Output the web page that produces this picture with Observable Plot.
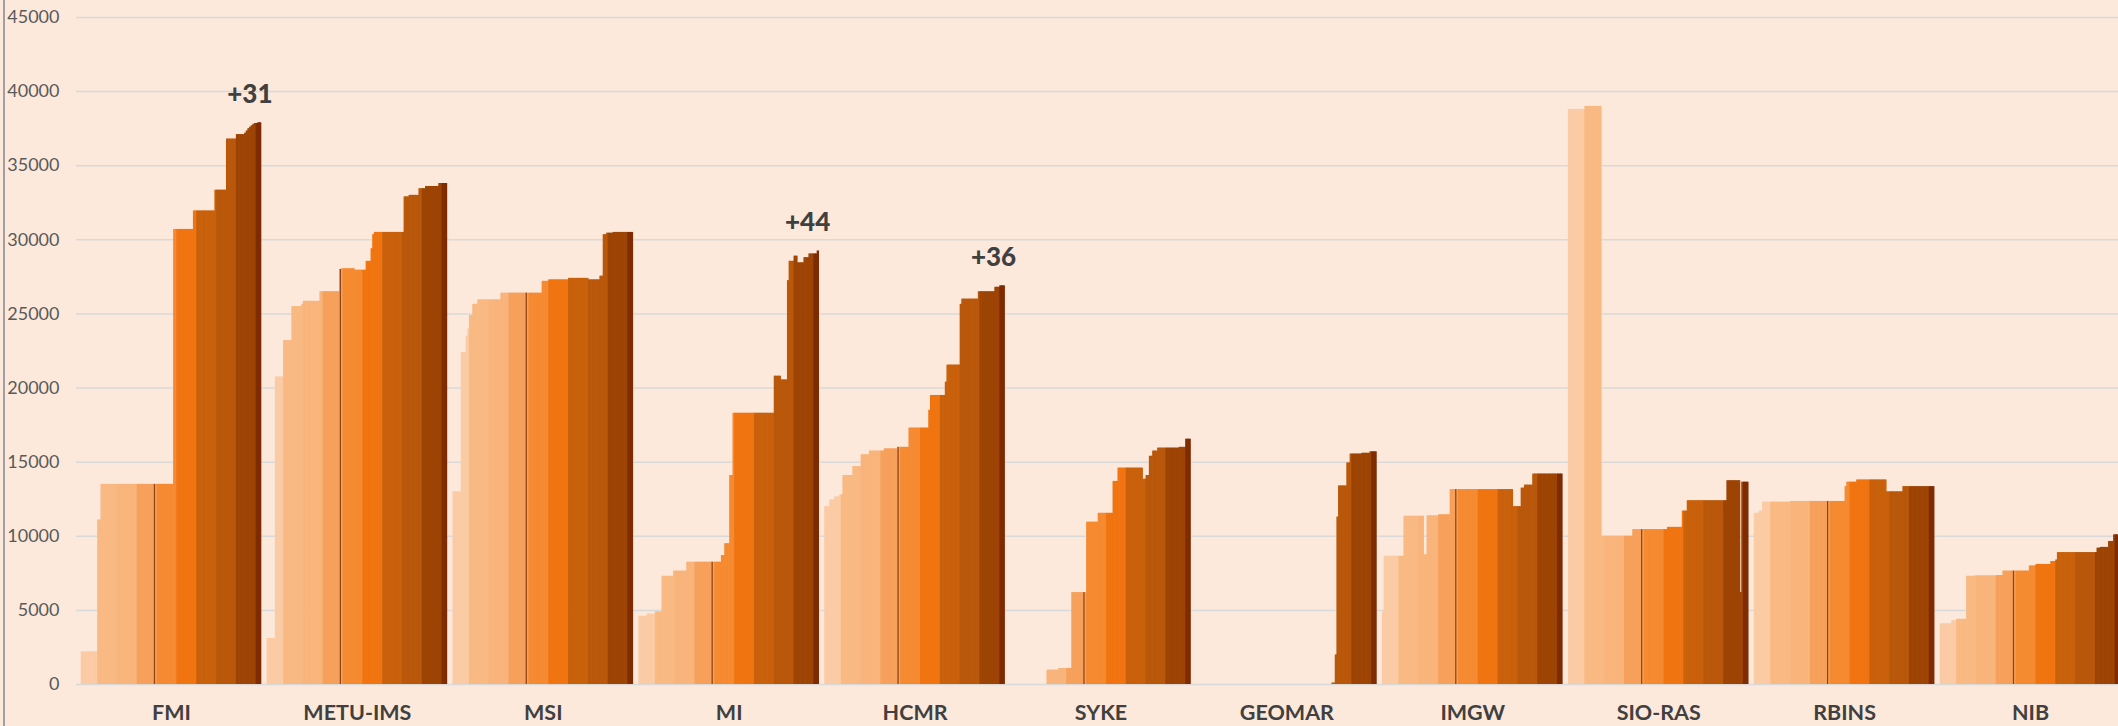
<!DOCTYPE html>
<html><head><meta charset="utf-8">
<script src="https://cdn.jsdelivr.net/npm/d3@7"></script>
<script src="https://cdn.jsdelivr.net/npm/@observablehq/plot@0.6"></script>
<style>
html,body{margin:0;padding:0;background:#fde9db;}
#wrap{position:relative;width:2118px;height:726px;overflow:hidden;background:#fde9db;}
#edge{position:absolute;left:3px;top:0;width:2px;height:726px;background:#a0a0a0;}
</style></head><body>
<div id="wrap"><div id="edge"></div></div>
<script>
const categories = ["FMI","METU-IMS","MSI","MI","HCMR","SYKE","GEOMAR","IMGW","SIO-RAS","RBINS","NIB"];
const years = [2015,2016,2017,2018,2019,2020,2021,2022,2023,2024];
const monthsPerYear = [10,12,12,12,12,12,12,12,12,3];
const yearColors = ["#fbcba5","#f9b983","#f8b47b","#f6a05b","#f58a31","#f07410","#c9600b","#b9570a","#9d4405","#7f2b01"];
const highlightIndex = 44;
const highlightColor = "#8f4316";
const yTicks = [0,5000,10000,15000,20000,25000,30000,35000,40000,45000];
const annotGroups = ["FMI","MI","HCMR"];
const annotLabels = ["+31","+44","+36"];

const FMI = [
2200,2200,2200,2200,2200,2200,2200,2200,2200,2200,
11100,11100,13500,13500,13500,13500,13500,13500,13500,13500,13500,13500,
13500,13500,13500,13500,13500,13500,13500,13500,13500,13500,13500,13500,
13500,13500,13500,13500,13500,13500,13500,13500,13500,13500,13500,13500,
13500,13500,13500,13500,13500,13500,13500,13500,13500,13500,30700,30700,
30700,30700,30700,30700,30700,30700,30700,30700,30700,30700,31950,31950,
31950,31950,31950,31950,31950,31950,31950,31950,31950,31950,31950,33350,
33350,33350,33350,33350,33350,33350,36800,36800,36800,36800,36800,36800,
37100,37100,37100,37100,37100,37200,37350,37500,37600,37700,37800,37850,
37850,37900,37900];
const METU_IMS = [
3100,3100,3100,3100,3100,20750,20750,20750,20750,20750,
23200,23200,23200,23200,23200,25500,25500,25500,25500,25500,25500,25650,
25850,25850,25850,25850,25850,25850,25850,25850,25850,25850,26500,26500,
26500,26500,26500,26500,26500,26500,26500,26500,26500,26500,28000,28050,
28050,28050,28050,28050,28050,28050,28050,27950,27950,27950,27950,27950,
27950,27950,28550,28550,28550,29400,30350,30500,30500,30500,30500,30500,
30500,30500,30500,30500,30500,30500,30500,30500,30500,30500,30500,30500,
30500,32900,32900,32900,33000,33000,33000,33000,33000,33000,33450,33450,
33450,33450,33600,33600,33600,33600,33600,33600,33600,33600,33800,33800,
33800,33800,33800];
const MSI = [
13000,13000,13000,13000,13000,22400,22400,22400,23500,24000,
24900,24900,25650,25650,25650,25950,25950,25950,25950,25950,25950,25950,
25950,25950,25950,25950,25950,25950,25950,26400,26400,26400,26400,26400,
26400,26400,26400,26400,26400,26400,26400,26400,26400,26400,26400,26400,
26400,26400,26400,26400,26400,26400,26400,26400,27200,27200,27200,27200,
27300,27300,27300,27300,27300,27300,27300,27300,27300,27300,27300,27300,
27400,27400,27400,27400,27400,27400,27400,27400,27400,27400,27400,27400,
27300,27300,27300,27300,27300,27300,27300,27550,27550,30350,30350,30450,
30450,30450,30450,30500,30500,30500,30500,30500,30500,30500,30500,30500,
30500,30500,30500];
const MI = [
4600,4600,4600,4600,4600,4750,4750,4750,4750,4750,
4900,4900,4900,4900,7300,7300,7300,7300,7300,7300,7300,7650,
7650,7650,7650,7650,7650,7650,7650,8250,8250,8250,8250,8250,
8250,8250,8250,8250,8250,8250,8250,8250,8250,8250,8250,8250,
8250,8250,8250,8250,8700,8700,9500,9500,9500,14100,14100,18300,
18300,18300,18300,18300,18300,18300,18300,18300,18300,18300,18300,18300,
18300,18300,18300,18300,18300,18300,18300,18300,18300,18300,18300,18300,
20800,20800,20800,20800,20550,20550,20550,20550,27250,28550,28550,28550,
28900,28900,28450,28450,28450,28450,28800,28800,28800,29050,29050,29050,
29050,29050,29250];
const HCMR = [
12000,12000,12000,12450,12450,12450,12650,12650,12650,12800,
12800,14100,14100,14100,14100,14100,14100,14700,14700,14700,14700,14700,
15500,15500,15500,15500,15500,15750,15750,15750,15750,15750,15750,15750,
15750,15750,15900,15900,15900,15900,15900,15900,15900,15900,16000,16000,
16000,16000,16000,16000,16000,17300,17300,17300,17300,17300,17300,17300,
17300,17300,17300,17300,17300,18500,19500,19500,19500,19500,19500,19500,
19500,19500,19500,20400,21550,21550,21550,21550,21550,21550,21550,21550,
25650,26000,26000,26000,26000,26000,26000,26000,26000,26000,26000,26500,
26500,26500,26500,26500,26500,26500,26500,26500,26500,26800,26800,26800,
26900,26900,26900];
const SYKE = [
0,0,0,0,0,0,0,0,0,0,
0,0,0,0,0,0,0,0,0,0,0,0,
970,970,970,970,970,970,970,1080,1080,1080,1080,1080,
1080,1080,1080,6200,6200,6200,6200,6200,6200,6200,6200,6200,
10950,10950,10950,10950,10950,10950,10950,11550,11550,11550,11550,11550,
11550,11550,11550,11550,13700,13700,13700,14600,14600,14600,14600,14600,
14600,14600,14600,14600,14600,14600,14600,14600,14600,14600,13850,13850,
14100,14100,15400,15400,15750,15750,15750,15950,15950,15950,15950,15950,
15950,15950,15950,15950,15950,15950,15950,15950,16000,16000,16000,16000,
16550,16550,16550];
const GEOMAR = [
0,0,0,0,0,0,0,0,0,0,
0,0,0,0,0,0,0,0,0,0,0,0,
0,0,0,0,0,0,0,0,0,0,0,0,
0,0,0,0,0,0,0,0,0,0,0,0,
0,0,0,0,0,0,0,0,0,0,0,0,
0,0,0,0,0,0,0,0,0,0,0,0,
0,0,0,0,0,0,0,0,0,0,0,0,
100,100,2000,11300,13400,13400,13400,13400,13400,14950,14950,15550,
15550,15550,15550,15550,15550,15550,15600,15600,15600,15600,15600,15700,
15700,15700,15700];
const IMGW = [
4900,8650,8650,8650,8650,8650,8650,8650,8650,8650,
8650,8650,8650,11350,11350,11350,11350,11350,11350,11350,11350,11350,
11350,11350,11350,8750,8750,11380,11380,11380,11380,11380,11380,11380,
11450,11450,11450,11450,11450,11450,11450,13150,13150,13150,13150,13150,
13150,13150,13150,13150,13150,13150,13150,13150,13150,13150,13150,13150,
13150,13150,13150,13150,13150,13150,13150,13150,13150,13150,13150,13150,
13150,13150,13150,13150,13150,13150,13150,13150,13150,12000,12000,12000,
12000,12000,13250,13250,13450,13450,13450,13450,13450,14200,14200,14200,
14200,14200,14200,14200,14200,14200,14200,14200,14200,14200,14200,14200,
14200,14200,14200];
const SIO_RAS = [
38800,38800,38800,38800,38800,38800,38800,38800,38800,38800,
39000,39000,39000,39000,39000,39000,39000,39000,39000,39000,10000,10000,
10000,10000,10000,10000,10000,10000,10000,10000,10000,10000,10000,10000,
10000,10000,10000,10000,10000,10450,10450,10450,10450,10450,10450,10450,
10450,10450,10450,10450,10450,10450,10450,10450,10450,10450,10450,10450,
10450,10450,10600,10600,10600,10600,10600,10600,10600,10600,10600,11700,
11700,11700,12400,12400,12400,12400,12400,12400,12400,12400,12400,12400,
12400,12400,12400,12400,12400,12400,12400,12400,12400,12400,12400,12400,
12400,12400,13750,13750,13750,13750,13750,13750,13750,13750,6200,13650,
13650,13650,13650];
const RBINS = [
11550,11550,11550,11700,11700,12300,12300,12300,12300,12300,
12300,12300,12300,12300,12300,12300,12300,12300,12300,12300,12300,12300,
12350,12350,12350,12350,12350,12350,12350,12350,12350,12350,12350,12350,
12350,12350,12350,12350,12350,12350,12350,12350,12350,12350,12350,12350,
12350,12350,12350,12350,12350,12350,12350,12350,12350,13350,13650,13650,
13650,13650,13650,13650,13800,13800,13800,13800,13800,13800,13800,13800,
13800,13800,13800,13800,13800,13800,13800,13800,13800,13800,13000,13000,
13000,13000,13000,13000,13000,13000,13000,13000,13350,13350,13350,13350,
13350,13350,13350,13350,13350,13350,13350,13350,13350,13350,13350,13350,
13350,13350,13350];
const NIB = [
4100,4100,4100,4100,4100,4100,4100,4300,4300,4300,
4400,4400,4400,4400,4400,4400,7300,7300,7300,7300,7300,7330,
7330,7330,7330,7330,7330,7330,7330,7330,7330,7330,7330,7330,
7350,7350,7350,7350,7650,7650,7650,7650,7650,7650,7650,7650,
7650,7650,7650,7650,7650,7650,7650,7650,8000,8000,8000,8000,
8100,8100,8100,8100,8100,8100,8100,8100,8100,8300,8300,8300,
8400,8900,8900,8900,8900,8900,8900,8900,8900,8900,8900,8900,
8900,8900,8900,8900,8900,8900,8900,8900,8900,8900,8900,8900,
8900,9200,9200,9250,9250,9250,9250,9250,9650,9650,9650,10100,
10100,10100,10100];

const series = [FMI, METU_IMS, MSI, MI, HCMR, SYKE, GEOMAR, IMGW, SIO_RAS, RBINS, NIB];
series.forEach((s, g) => { if (s.length !== 109) console.warn(categories[g], s.length); });

// layout: one unit = one monthly bar
const pitch = 112.6;          // group pitch in bar units
const nBars = 109;
const barYear = [];
monthsPerYear.forEach((n, k) => { for (let j = 0; j < n; j++) barYear.push(years[k]); });

const bars = [];
series.forEach((vals, g) => vals.forEach((v, i) => bars.push({
  group: categories[g], i, x1: g * pitch + i, x2: g * pitch + i + 1, value: v, year: barYear[i]
})));
const highlights = bars.filter(d => d.i === highlightIndex && d.value > 0);
const centers = categories.map((c, g) => g * pitch + (nBars - 1) / 2 + 0.5);
const centerName = new Map(centers.map((x, g) => [x, categories[g]]));
const annots = annotGroups.map((c, k) => {
  const g = categories.indexOf(c);
  return {x: g * pitch + 102, y: d3.max(series[g]), label: annotLabels[k]};
});

const chart = Plot.plot({
  width: 2118, height: 726,
  marginLeft: 76, marginRight: 0, marginTop: 17, marginBottom: 42,
  style: {background: "#fde9db", fontFamily: "Lato, 'Open Sans', sans-serif", overflow: "hidden"},
  x: {domain: [-3.03, 1233.8]},
  y: {domain: [0, 45000]},
  color: {domain: years, range: yearColors},
  marks: [
    Plot.gridY(yTicks, {stroke: "#d9d9d9", strokeOpacity: 1, strokeWidth: 1.5}),
    Plot.rect(bars, {x1: "x1", x2: "x2", y1: 0, y2: "value", fill: "year", insetLeft: -0.35, insetRight: -0.35}),
    Plot.rect(highlights, {x1: "x1", x2: "x2", y1: 0, y2: "value", fill: highlightColor, insetLeft: 0.2, insetRight: 0.2}),
    Plot.axisY(yTicks, {tickSize: 0, tickPadding: 17, tickFormat: d3.format("d"), fontSize: 18, fill: "#595959", label: null}),
    Plot.axisX(centers, {tickSize: 0, tickPadding: 20, tickFormat: d => centerName.get(d), fontSize: 21.5, fontWeight: "bold", fill: "#404040", label: null}),
    Plot.text(annots, {x: "x", y: "y", text: "label", dy: -28, fontSize: 26, fontWeight: 900, fill: "#404040"})
  ]
});
document.getElementById("wrap").appendChild(chart);
</script>
</body></html>
